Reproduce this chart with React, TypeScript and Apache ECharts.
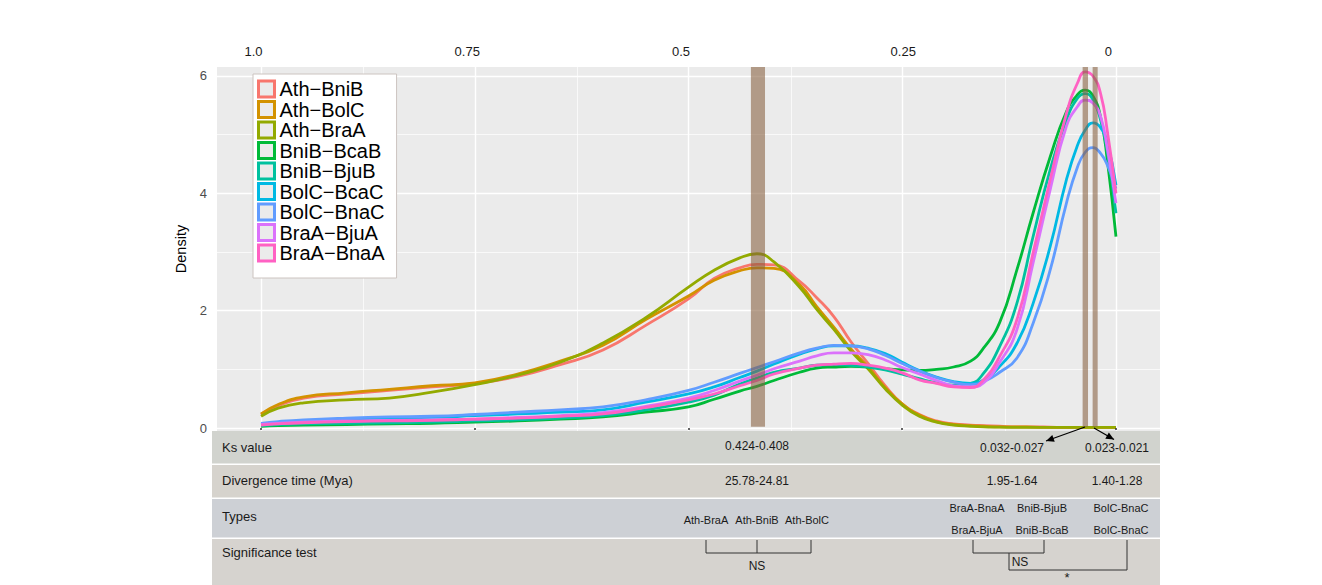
import React, { useEffect, useRef } from "react";
import * as echarts from "echarts";

// ---------- data ----------
const SERIES_NAMES = [
  "Ath\u2212BniB",
  "Ath\u2212BolC",
  "Ath\u2212BraA",
  "BniB\u2212BcaB",
  "BniB\u2212BjuB",
  "BolC\u2212BcaC",
  "BolC\u2212BnaC",
  "BraA\u2212BjuA",
  "BraA\u2212BnaA",
];
const COLORS = ["#F8766D", "#D39200", "#93AA00", "#00BA38", "#00C19F", "#00B9E3", "#619CFF", "#DB72FB", "#FF61C3"];

const KS = [1.0, 0.98, 0.95, 0.9, 0.85, 0.8, 0.75, 0.7, 0.65, 0.6, 0.55, 0.5, 0.47, 0.44, 0.42, 0.4, 0.37, 0.35, 0.33, 0.31, 0.29, 0.27, 0.25, 0.23, 0.21, 0.19, 0.17, 0.155, 0.136, 0.116, 0.097, 0.077, 0.058, 0.045, 0.036, 0.027, 0.018, 0.01, 0.0];

const athBniB = [0.23, 0.38, 0.51, 0.58, 0.64, 0.7, 0.76, 0.88, 1.08, 1.33, 1.75, 2.2, 2.55, 2.73, 2.79, 2.78, 2.5, 2.22, 1.9, 1.47, 1.1, 0.72, 0.41, 0.23, 0.12, 0.07, 0.05, 0.04, 0.03, 0.02, 0.02, 0.015, 0.01, 0.01, 0.01, 0.01, 0.01, 0.01, 0.01];
const athBolC = [0.24, 0.4, 0.53, 0.6, 0.66, 0.72, 0.77, 0.92, 1.14, 1.41, 1.85, 2.25, 2.52, 2.68, 2.73, 2.72, 2.44, 2.07, 1.72, 1.35, 1.04, 0.69, 0.41, 0.22, 0.11, 0.06, 0.04, 0.03, 0.02, 0.02, 0.015, 0.01, 0.01, 0.01, 0.01, 0.01, 0.01, 0.01, 0.01];
const athBraA = [0.2, 0.34, 0.43, 0.48, 0.51, 0.61, 0.74, 0.9, 1.12, 1.45, 1.88, 2.4, 2.69, 2.9, 2.97, 2.83, 2.4, 2.02, 1.68, 1.31, 1.01, 0.67, 0.39, 0.2, 0.1, 0.05, 0.03, 0.02, 0.015, 0.01, 0.01, 0.01, 0.01, 0.01, 0.01, 0.01, 0.01, 0.01, 0.01];
const bniBBcaB = [0.03, 0.04, 0.05, 0.06, 0.07, 0.08, 0.1, 0.12, 0.15, 0.19, 0.27, 0.36, 0.49, 0.63, 0.71, 0.81, 0.95, 1.02, 1.04, 1.05, 1.04, 1.01, 0.99, 0.98, 1.0, 1.04, 1.14, 1.36, 1.8, 2.69, 3.66, 4.62, 5.39, 5.68, 5.76, 5.66, 5.3, 4.55, 3.26];
const bniBBjuB = [0.04, 0.06, 0.07, 0.08, 0.09, 0.1, 0.12, 0.14, 0.17, 0.21, 0.31, 0.44, 0.56, 0.75, 0.85, 0.95, 1.02, 1.07, 1.08, 1.07, 1.04, 0.99, 0.92, 0.84, 0.77, 0.73, 0.76, 0.93, 1.39, 2.12, 3.26, 4.4, 5.25, 5.62, 5.7, 5.6, 5.25, 4.7, 3.66];
const bolCBcaC = [0.06, 0.09, 0.12, 0.15, 0.17, 0.18, 0.21, 0.24, 0.27, 0.31, 0.44, 0.58, 0.7, 0.86, 0.97, 1.09, 1.26, 1.35, 1.4, 1.4, 1.36, 1.27, 1.12, 0.98, 0.87, 0.79, 0.76, 0.82, 1.05, 1.44, 2.12, 3.09, 4.23, 4.82, 5.08, 5.2, 5.12, 4.85, 4.14];
const bolCBnaC = [0.08, 0.11, 0.14, 0.17, 0.19, 0.2, 0.23, 0.27, 0.31, 0.36, 0.48, 0.64, 0.78, 0.93, 1.03, 1.13, 1.28, 1.36, 1.41, 1.4, 1.35, 1.24, 1.1, 0.97, 0.86, 0.78, 0.74, 0.79, 0.95, 1.19, 1.78, 2.69, 3.83, 4.45, 4.7, 4.78, 4.68, 4.48, 4.08];
const braABjuA = [0.06, 0.08, 0.1, 0.12, 0.13, 0.14, 0.15, 0.18, 0.21, 0.26, 0.37, 0.51, 0.64, 0.8, 0.9, 1.01, 1.14, 1.23, 1.28, 1.28, 1.25, 1.16, 1.03, 0.92, 0.81, 0.72, 0.7, 0.77, 1.12, 1.67, 2.81, 4.06, 5.14, 5.48, 5.59, 5.54, 5.31, 4.75, 3.83];
const braABnaA = [0.05, 0.07, 0.09, 0.11, 0.12, 0.13, 0.15, 0.17, 0.2, 0.24, 0.35, 0.48, 0.58, 0.72, 0.81, 0.92, 1.02, 1.07, 1.09, 1.1, 1.07, 1.02, 0.94, 0.82, 0.76, 0.7, 0.69, 0.82, 1.22, 1.84, 2.98, 4.23, 5.36, 5.88, 6.07, 6.0, 5.7, 5.05, 4.0];

const SERIES_VALUES = [athBniB, athBolC, athBraA, bniBBcaB, bniBBjuB, bolCBcaC, bolCBnaC, braABjuA, braABnaA];

// Ks ranges highlighted by brown bands
const BANDS: [number, number][] = [
  [0.427, 0.4105],
  [0.039, 0.0327],
  [0.0273, 0.0214],
];

const X_MAJOR = [0, 0.25, 0.5, 0.75, 1.0];
const X_MINOR = [0.125, 0.375, 0.625, 0.875];
const Y_MAJOR = [0, 2, 4, 6];
const Y_MINOR = [1, 3, 5];
const TOP_TICKS = [1.0, 0.75, 0.5, 0.25, 0];
const TOP_LABELS = ["1.0", "0.75", "0.5", "0.25", "0"];

// table content
const ROW_LABELS = ["Ks value", "Divergence time (Mya)", "Types", "Significance test"];
const KS_RANGES = ["0.424-0.408", "0.032-0.027", "0.023-0.021"];
const DIV_TIMES = ["25.78-24.81", "1.95-1.64", "1.40-1.28"];
const TYPES_ATH = ["Ath-BraA", "Ath-BniB", "Ath-BolC"];
const TYPES_RECENT_TOP = ["BraA-BnaA", "BniB-BjuB", "BolC-BnaC"];
const TYPES_RECENT_BOTTOM = ["BraA-BjuA", "BniB-BcaB", "BolC-BnaC"];
const SIG_MARKS = ["NS", "NS", "*"];

// ---------- layout ----------
const FONT = "'Liberation Sans', Arial, Helvetica, sans-serif";
const X_MIN = -0.0515;
const X_MAX = 1.0515;
const Y_MIN = -0.051;
const Y_MAX = 6.153;

function arrowHead(x1: number, y1: number, x2: number, y2: number, len = 8, w = 3.6) {
  const dx = x2 - x1;
  const dy = y2 - y1;
  const d = Math.sqrt(dx * dx + dy * dy);
  const ux = dx / d;
  const uy = dy / d;
  const bx = x2 - ux * len;
  const by = y2 - uy * len;
  return [
    [x2, y2],
    [bx - uy * w, by + ux * w],
    [bx + uy * w, by - ux * w],
  ];
}

function buildGraphic() {
  const els: any[] = [];
  const X0 = 212;
  const X1 = 1160;
  const rows = [
    [431, 463.5],
    [465, 497.5],
    [499, 537.5],
    [539, 585],
  ];
  const rowColors = ["#D1D3CE", "#D6D3CD", "#CDD0D5", "#D6D3CF"];
  const labelY = [447, 480, 516, 552];
  rows.forEach((r, i) => {
    els.push({ type: "rect", z: 1, silent: true, shape: { x: X0, y: r[0], width: X1 - X0, height: r[1] - r[0] }, style: { fill: rowColors[i] } });
    els.push({
      type: "text",
      z: 5,
      silent: true,
      x: 222,
      y: labelY[i],
      style: { text: ROW_LABELS[i], font: `13px ${FONT}`, fill: "#1a1a1a", textVerticalAlign: "middle", textAlign: "left" },
    });
  });
  const cols = [757, 1012, 1117];
  const txt = (text: string, x: number, y: number, size: number, extra: any = {}) => ({
    type: "text",
    z: 5,
    silent: true,
    x,
    y,
    style: { text, font: `${size}px ${FONT}`, fill: "#1a1a1a", textAlign: "center", textVerticalAlign: "middle", ...extra },
  });
  KS_RANGES.forEach((t, i) => els.push(txt(t, cols[i], i === 0 ? 446 : 447.5, 12)));
  DIV_TIMES.forEach((t, i) => els.push(txt(t, cols[i], 481, 12)));
  const athX = [706, 757, 807];
  TYPES_ATH.forEach((t, i) => els.push(txt(t, athX[i], 519.5, 11)));
  const recX = [977, 1042, 1121];
  TYPES_RECENT_TOP.forEach((t, i) => els.push(txt(t, recX[i], 507.5, 11)));
  TYPES_RECENT_BOTTOM.forEach((t, i) => els.push(txt(t, recX[i], 529.5, 11)));

  const lineStyle = { stroke: "#333", lineWidth: 1, fill: null };
  const poly = (pts: number[][]) => ({ type: "polyline", z: 5, silent: true, shape: { points: pts }, style: lineStyle });
  els.push(poly([[706, 540], [706, 553], [811, 553], [811, 540]]));
  els.push(poly([[757, 540], [757, 553]]));
  els.push(poly([[973, 540], [973, 553], [1044, 553], [1044, 540]]));
  els.push(poly([[1009, 553], [1009, 570], [1127, 570], [1127, 540]]));
  els.push(txt(SIG_MARKS[0], 757, 566, 12));
  els.push(txt(SIG_MARKS[1], 1020, 562, 12));
  els.push(txt(SIG_MARKS[2], 1067, 577, 13));

  const arrows = [
    [1085, 427, 1046, 441],
    [1094, 428, 1114, 439.5],
  ];
  arrows.forEach(([a, b, c, d]) => {
    els.push({ type: "line", z: 30, silent: true, shape: { x1: a, y1: b, x2: c, y2: d }, style: { stroke: "#000", lineWidth: 1.2 } });
    els.push({ type: "polygon", z: 30, silent: true, shape: { points: arrowHead(a, b, c, d) }, style: { fill: "#000" } });
  });
  return els;
}

function buildOption() {
  const curveSeries = SERIES_NAMES.map((name, i) => ({
    type: "line",
    name,
    data: KS.map((k, j) => [k, SERIES_VALUES[i][j]]),
    symbol: "none",
    showSymbol: false,
    smooth: 0.5,
    lineStyle: { width: 2.8, color: COLORS[i] },
    itemStyle: { color: COLORS[i] },
    z: 2,
    silent: true,
  }));

  const gridLines = [
    ...X_MAJOR.map((v) => ({ xAxis: v, lineStyle: { color: "#FFFFFF", width: 1.4, type: "solid" } })),
    ...X_MINOR.map((v) => ({ xAxis: v, lineStyle: { color: "#FFFFFF", width: 0.7, type: "solid" } })),
    ...Y_MAJOR.map((v) => ({ yAxis: v, lineStyle: { color: "#FFFFFF", width: 1.4, type: "solid" } })),
    ...Y_MINOR.map((v) => ({ yAxis: v, lineStyle: { color: "#FFFFFF", width: 0.7, type: "solid" } })),
  ];

  const helperGrid = {
    type: "line",
    name: "_grid",
    data: [],
    z: 1,
    silent: true,
    markLine: {
      z: 1,
      silent: true,
      symbol: ["none", "none"],
      label: { show: false },
      emphasis: { disabled: true },
      animation: false,
      data: gridLines,
    },
  };

  const helperBands = {
    type: "line",
    name: "_bands",
    data: [],
    z: 3,
    silent: true,
    markArea: {
      z: 3,
      silent: true,
      emphasis: { disabled: true },
      itemStyle: { color: "rgba(135,95,62,0.58)" },
      data: BANDS.map(([a, b]) => [{ xAxis: a, yAxis: 0.02 }, { xAxis: b, yAxis: Y_MAX }]),
    },
  };

  const topFormatter = (v: number) => {
    const i = TOP_TICKS.findIndex((t) => Math.abs(t - v) < 1e-6);
    if (i < 0) return "";
    return i === 3 ? `{b|${TOP_LABELS[i]}}` : `{a|${TOP_LABELS[i]}}`;
  };

  return {
    animation: false,
    backgroundColor: "#FFFFFF",
    textStyle: { fontFamily: FONT },
    grid: { left: 217, right: 162, top: 67, bottom: 154, show: true, backgroundColor: "#EBEBEB", borderWidth: 0 },
    xAxis: [
      {
        type: "value",
        inverse: true,
        min: X_MIN,
        max: X_MAX,
        position: "bottom",
        z: 10,
        axisLine: { show: false },
        axisTick: { show: true, customValues: X_MAJOR, length: 2, lineStyle: { color: "#333", width: 1.5 } },
        axisLabel: { show: false },
        splitLine: { show: false },
      },
      {
        type: "value",
        inverse: true,
        min: X_MIN,
        max: X_MAX,
        position: "top",
        axisLine: { show: false },
        axisTick: { show: false },
        axisLabel: {
          customValues: TOP_TICKS,
          formatter: topFormatter,
          margin: 9,
          rich: {
            a: { fontSize: 13, color: "#1a1a1a", fontFamily: FONT, padding: [0, 15, 0, 0] },
            b: { fontSize: 13, color: "#1a1a1a", fontFamily: FONT, padding: [0, 0, 0, 2] },
          },
        },
        splitLine: { show: false },
      },
    ],
    yAxis: {
      type: "value",
      min: Y_MIN,
      max: Y_MAX,
      axisLine: { show: false },
      axisTick: { show: true, customValues: Y_MAJOR, length: 4, lineStyle: { color: "#333", width: 1 } },
      axisLabel: { customValues: Y_MAJOR, margin: 10, fontSize: 13, color: "#4D4D4D", fontFamily: FONT },
      splitLine: { show: false },
      name: "Density",
      nameLocation: "middle",
      nameGap: 15,
      nameTextStyle: { fontSize: 14.5, color: "#000", fontFamily: FONT },
    },
    legend: {
      orient: "vertical",
      left: 253,
      top: 74,
      z: 20,
      selectedMode: false,
      itemWidth: 16,
      itemHeight: 16,
      itemGap: 0.5,
      padding: [5, 12, 15, 4],
      backgroundColor: "#FFFFFF",
      borderColor: "#CCC4C0",
      borderWidth: 1,
      textStyle: { fontSize: 20, color: "#000", lineHeight: 20, fontFamily: FONT },
      data: SERIES_NAMES.map((n, i) => ({
        name: n,
        icon: "rect",
        itemStyle: { color: "#EBEBEB", borderColor: COLORS[i], borderWidth: 3 },
      })),
    },
    graphic: { elements: buildGraphic() },
    series: [helperGrid, ...curveSeries, helperBands],
  };
}

export default function App() {
  const ref = useRef<HTMLDivElement>(null);
  useEffect(() => {
    document.body.style.margin = "0";
    if (!ref.current) return;
    const chart = echarts.init(ref.current, null, { renderer: "svg" });
    chart.setOption(buildOption() as any);
    return () => chart.dispose();
  }, []);
  return <div ref={ref} style={{ width: 1322, height: 585 }} />;
}
